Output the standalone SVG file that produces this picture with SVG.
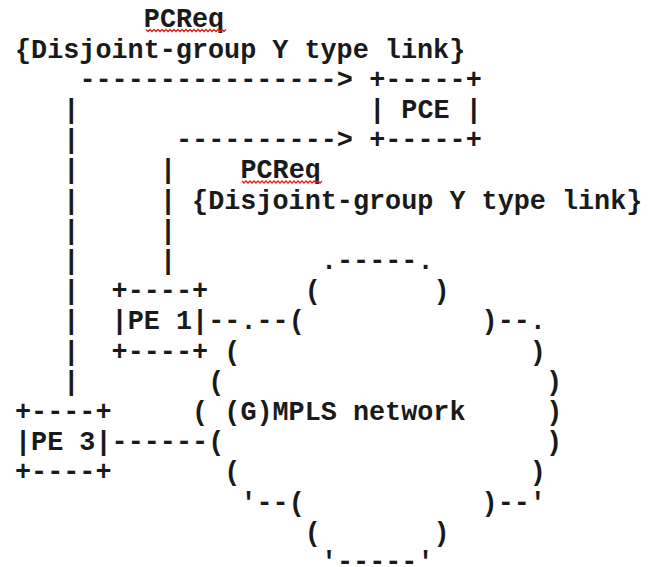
<svg xmlns="http://www.w3.org/2000/svg" xmlns:xlink="http://www.w3.org/1999/xlink" width="654" height="567" viewBox="0 0 654 567">
  <style>
    .t { font-family: "Liberation Mono", "Courier New", monospace; font-size: 26.8px; font-weight: bold; fill: #1a1a1a; white-space: pre; }
    .sq { fill: none; stroke: #e0201c; stroke-width: 1.3; }
  </style>
  <defs>
    <path id="squiggle" class="sq" d="M0 0 l2 2 l2 -2 l2 2 l2 -2 l2 2 l2 -2 l2 2 l2 -2 l2 2 l2 -2 l2 2 l2 -2 l2 2 l2 -2 l2 2 l2 -2 l2 2 l2 -2 l2 2 l2 -2 l2 2 l2 -2 l2 2 l2 -2 l2 2 l2 -2 l2 2 l2 -2 l2 2 l2 -2 l2 2 l2 -2 l2 2 l2 -2 l2 2 l2 -2 l2 2 l2 -2 l2 2 l2 -2"/>
  </defs>
  <rect width="654" height="567" fill="#ffffff"/>

  <g id="label-pcreq-1">
    <text class="t" x="143.8" y="27.4">PCReq</text>
    <use xlink:href="#squiggle" x="146" y="29.5"/>
    <text class="t" x="15" y="57.6">{Disjoint-group Y type link}</text>
  </g>

  <g id="label-pcreq-2">
    <text class="t" x="240.4" y="178.4">PCReq</text>
    <use xlink:href="#squiggle" x="242" y="181"/>
    <text class="t" x="192.1" y="208.6">{Disjoint-group Y type link}</text>
  </g>

  <g id="pce">
    <text class="t" x="369.2" y="87.8">+-----+</text>
    <text class="t" x="369.2" y="118">| PCE |</text>
    <text class="t" x="369.2" y="148.2">+-----+</text>
  </g>

  <g id="pe1">
    <text class="t" x="111.6" y="299.2">+----+</text>
    <text class="t" x="111.6" y="329.4">|PE 1|</text>
    <text class="t" x="111.6" y="359.6">+----+</text>
  </g>

  <g id="pe3">
    <text class="t" x="15" y="420">+----+</text>
    <text class="t" x="15" y="450.2">|PE 3|</text>
    <text class="t" x="15" y="480.4">+----+</text>
  </g>

  <g id="network">
    <text class="t" x="320.9" y="269">.-----.</text>
    <text class="t" x="304.8" y="299.2">(       )</text>
    <text class="t" x="240.4" y="329.4">.--(           )--.</text>
    <text class="t" x="224.3" y="359.6">(                  )</text>
    <text class="t" x="208.2" y="389.8">(                    )</text>
    <text class="t" x="192.1" y="420">(</text>
    <text class="t" x="224.3" y="420">(G)MPLS network</text>
    <text class="t" x="546.3" y="420">)</text>
    <text class="t" x="208.2" y="450.2">(                    )</text>
    <text class="t" x="224.3" y="480.4">(                  )</text>
    <text class="t" x="240.4" y="510.6">'--(           )--'</text>
    <text class="t" x="304.8" y="540.8">(       )</text>
    <text class="t" x="320.9" y="570">'-----'</text>
  </g>

  <g id="connectors">
    <text class="t" x="79.4" y="87.8">----------------&gt;</text>
    <text class="t" x="176" y="148.2">----------&gt;</text>
    <text class="t" x="63.3" y="118">|</text>
    <text class="t" x="63.3" y="148.2">|</text>
    <text class="t" x="63.3" y="178.4">|</text>
    <text class="t" x="63.3" y="208.6">|</text>
    <text class="t" x="63.3" y="238.8">|</text>
    <text class="t" x="63.3" y="269">|</text>
    <text class="t" x="63.3" y="299.2">|</text>
    <text class="t" x="63.3" y="329.4">|</text>
    <text class="t" x="63.3" y="359.6">|</text>
    <text class="t" x="63.3" y="389.8">|</text>
    <text class="t" x="159.9" y="178.4">|</text>
    <text class="t" x="159.9" y="208.6">|</text>
    <text class="t" x="159.9" y="238.8">|</text>
    <text class="t" x="159.9" y="269">|</text>
    <text class="t" x="208.2" y="329.4">--</text>
    <text class="t" x="111.6" y="450.2">------</text>
  </g>
</svg>
